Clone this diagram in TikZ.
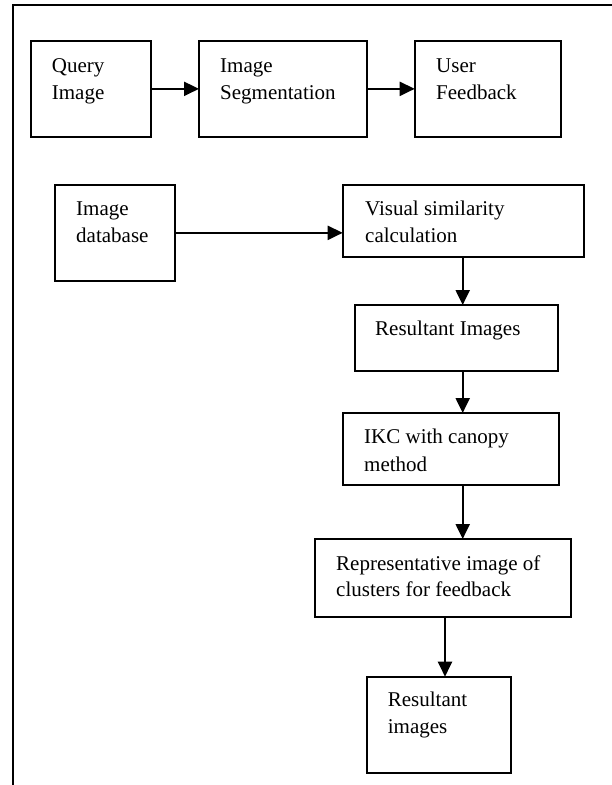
\documentclass[tikz,border=0pt]{standalone}
\usepackage{fontspec}
\setmainfont{Liberation Serif}
\usetikzlibrary{arrows.meta}
\tikzset{
  box/.style={draw, line width=2pt, inner sep=0pt, outer sep=0pt},
  txt/.style={anchor=base west, inner sep=0pt, font=\fontsize{21}{27}\selectfont},
  arr/.style={line width=2.2pt, -{Triangle[length=15pt,width=14pt]}},
  frame/.style={line width=2pt}
}
\begin{document}
\begin{tikzpicture}[x=1pt,y=-1pt]
\useasboundingbox (0,0) rectangle (612,785);
% frame
\coordinate (fl) at (13.3,785);
\coordinate (fc) at (13.3,4.7);
\coordinate (fr) at (612,4.7);
\draw[frame] (fl) -- (fc) -- (fr);
% boxes
\node[box, minimum width=120.6pt, minimum height=95.7pt] (q) at (91,88.85) {};
\node[box, minimum width=167.7pt, minimum height=95.7pt] (s) at (282.85,88.85) {};
\node[box, minimum width=146.3pt, minimum height=95.7pt] (u) at (487.85,88.85) {};
\node[box, minimum width=120pt, minimum height=95.7pt] (db) at (115,232.85) {};
\node[box, minimum width=241.3pt, minimum height=72.3pt] (vis) at (463.35,221.15) {};
\node[box, minimum width=203.3pt, minimum height=65.7pt] (res) at (456.65,337.85) {};
\node[box, minimum width=216.3pt, minimum height=72pt] (ikc) at (450.85,449) {};
\node[box, minimum width=256.3pt, minimum height=78pt] (rep) at (442.85,578) {};
\node[box, minimum width=144.3pt, minimum height=96.3pt] (fin) at (438.85,724.85) {};
% texts
\node[txt] (q1) at (51.7,72.7) {Query};
\node[txt] (q2) at (51.7,99.3) {Image};
\node[txt] (s1) at (220,72.7) {Image};
\node[txt] (s2) at (220,99.3) {Segmentation};
\node[txt] (u1) at (436,72.7) {User};
\node[txt] (u2) at (436,99.3) {Feedback};
\node[txt] (d1) at (76,215) {Image};
\node[txt] (d2) at (76,242.7) {database};
\node[txt] (v1) at (365,215) {Visual similarity};
\node[txt] (v2) at (365,242.7) {calculation};
\node[txt] (r1) at (375,335) {Resultant Images};
\node[txt] (k1) at (364,443.3) {IKC with canopy};
\node[txt] (k2) at (364,471) {method};
\node[txt] (p1) at (336,570) {Representative image of};
\node[txt] (p2) at (336,596.7) {clusters for feedback};
\node[txt] (f1) at (387.7,706.7) {Resultant};
\node[txt] (f2) at (387.7,733.3) {images};
% connectors
\coordinate (ax) at (462.7,0);
\coordinate (bx) at (445,0);
\draw[arr] (q.east) -- (s.west);
\draw[arr] (s.east) -- (u.west);
\draw[arr] (db.east) -- (db.east -| vis.west);
\draw[arr] (vis.south -| ax) -- (res.north -| ax);
\draw[arr] (res.south -| ax) -- (ikc.north -| ax);
\draw[arr] (ikc.south -| ax) -- (rep.north -| ax);
\draw[arr] (rep.south -| bx) -- (fin.north -| bx);
\end{tikzpicture}
\end{document}
